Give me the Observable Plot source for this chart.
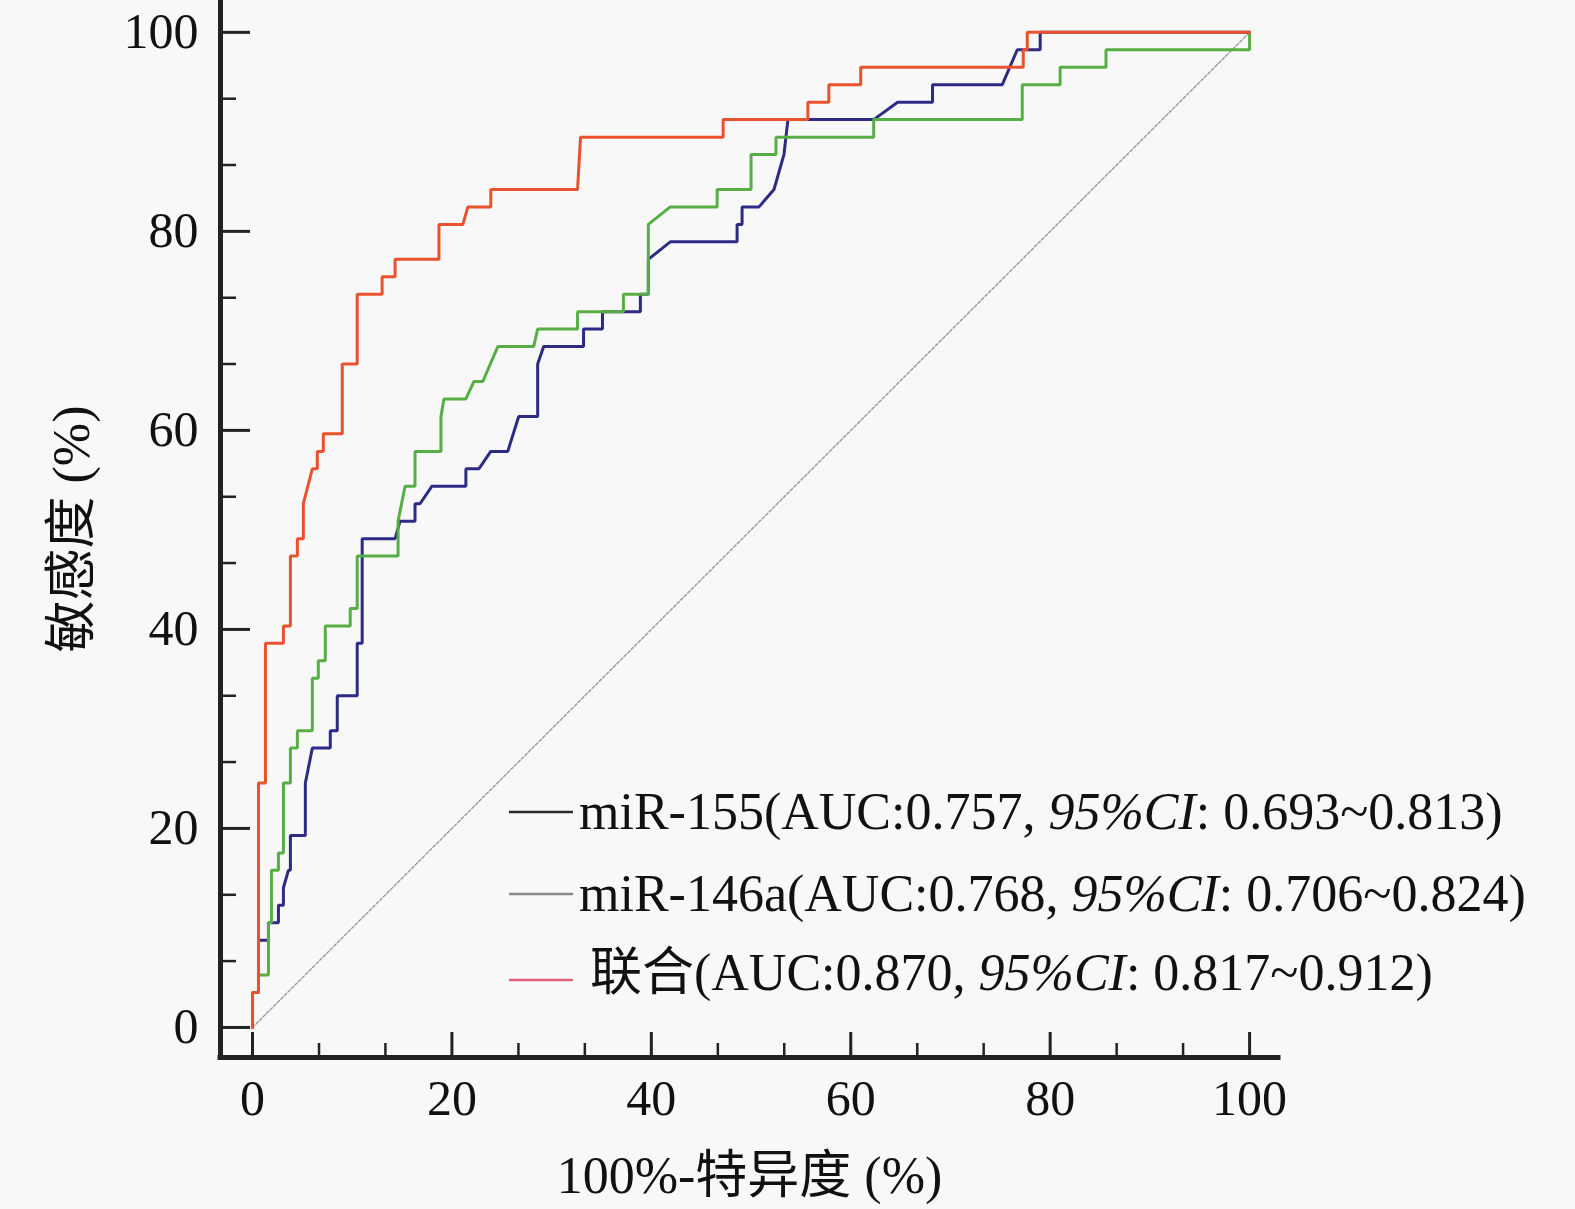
<!DOCTYPE html>
<html>
<head>
<meta charset="utf-8">
<script src="https://cdn.jsdelivr.net/npm/d3@7"></script>
<script src="https://cdn.jsdelivr.net/npm/@observablehq/plot@0.6"></script>
<style>
  html, body { margin: 0; padding: 0; background: #f8f8f8; }
  #chart { width: 1575px; height: 1209px; }
</style>
</head>
<body>
<div id="chart"></div>
<script>
// ---------------- data ----------------
const seriesNames = ["miR-155", "miR-146a", "联合"];
const seriesColors = ["#2e2b86", "#58ae46", "#e9522c"];
const legendLineColors = ["#2a2a2a", "#8a8a8a", "#e0607c"];
const legendPre = ["miR-155(AUC:0.757, ", "miR-146a(AUC:0.768, ", "联合(AUC:0.870, "];
const legendItalic = ["95%CI", "95%CI", "95%CI"];
const legendPost = [": 0.693~0.813)", ": 0.706~0.824)", ": 0.817~0.912)"];

const xTitle = "100%-特异度 (%)";
const yTitle = "敏感度 (%)";
const majorTicks = [0, 20, 40, 60, 80, 100];
const minorTicks = [6.67, 13.33, 26.67, 33.33, 46.67, 53.33, 66.67, 73.33, 86.67, 93.33];

const chanceFpr = [0, 100];
const chanceSens = [0, 100];

const mir155Fpr = [0,0,0.6,0.6,1.6,1.6,2.6,2.6,3.1,3.1,3.6,3.8,3.8,5.3,5.3,6.0,7.8,7.8,8.5,8.5,10.5,10.5,11.0,11.0,14.3,14.8,16.3,16.3,16.8,18.0,21.4,21.4,22.7,23.9,25.6,26.7,28.6,28.6,29.2,33.2,33.2,35.1,35.1,38.9,38.9,39.7,39.7,41.9,48.6,48.6,49.1,49.1,50.8,52.3,53.3,53.7,62.3,64.7,68.2,68.2,75.2,76.7,79.0,79.0,100];
const mir155Sens = [0,3.51,3.51,8.77,8.77,10.53,10.53,12.28,12.28,14.04,15.79,15.79,19.3,19.3,24.56,28.07,28.07,29.82,29.82,33.33,33.33,38.6,38.6,49.12,49.12,50.88,50.88,52.63,52.63,54.39,54.39,56.14,56.14,57.89,57.89,61.4,61.4,66.67,68.42,68.42,70.18,70.18,71.93,71.93,73.68,73.68,77.19,78.95,78.95,80.7,80.7,82.46,82.46,84.21,87.72,91.23,91.23,92.98,92.98,94.74,94.74,98.25,98.25,100,100];

const mir146aFpr = [0,0,0.6,0.6,1.6,1.6,1.9,1.9,2.6,2.6,3.1,3.1,3.8,3.8,4.5,4.5,6.0,6.0,6.6,6.6,7.3,7.3,9.8,9.8,10.5,10.5,14.6,14.6,15.3,16.3,16.3,18.9,18.9,19.2,21.4,22.2,23.1,24.6,28.2,28.6,32.6,32.6,37.2,37.2,39.7,39.7,41.9,46.6,46.6,50.0,50.0,52.5,52.5,62.3,62.3,77.2,77.2,81.0,81.0,85.6,85.6,100,100];
const mir146aSens = [0,3.51,3.51,5.26,5.26,10.53,10.53,15.79,15.79,17.54,17.54,24.56,24.56,28.07,28.07,29.82,29.82,35.09,35.09,36.84,36.84,40.35,40.35,42.11,42.11,47.37,47.37,50.88,54.39,54.39,57.89,57.89,61.4,63.16,63.16,64.91,64.91,68.42,68.42,70.18,70.18,71.93,71.93,73.68,73.68,80.7,82.46,82.46,84.21,84.21,87.72,87.72,89.47,89.47,91.23,91.23,94.74,94.74,96.49,96.49,98.25,98.25,100];

const combinedFpr = [0,0,0.6,0.6,1.3,1.3,3.1,3.1,3.8,3.8,4.5,4.5,5.1,5.1,6.0,6.5,6.5,7.1,7.1,9.0,9.0,10.5,10.5,13.0,13.0,14.3,14.3,18.7,18.7,21.1,21.6,23.9,23.9,32.6,32.9,47.2,47.2,55.7,55.7,57.8,57.8,61.0,61.0,77.3,77.3,77.7,77.7,100];
const combinedSens = [0,3.51,3.51,24.56,24.56,38.6,38.6,40.35,40.35,47.37,47.37,49.12,49.12,52.63,56.14,56.14,57.89,57.89,59.65,59.65,66.67,66.67,73.68,73.68,75.44,75.44,77.19,77.19,80.7,80.7,82.46,82.46,84.21,84.21,89.47,89.47,91.23,91.23,92.98,92.98,94.74,94.74,96.49,96.49,98.25,98.25,100,100];

// ---------------- tables ----------------
const toRows = (name, fpr, sens) => fpr.map((x, i) => ({series: name, fpr: x, sens: sens[i]}));
const rows155 = toRows(seriesNames[0], mir155Fpr, mir155Sens);
const rows146 = toRows(seriesNames[1], mir146aFpr, mir146aSens);
const rowsComb = toRows(seriesNames[2], combinedFpr, combinedSens);
const chanceRows = chanceFpr.map((x, i) => ({fpr: x, sens: chanceSens[i]}));

// ---------------- layout ----------------
const W = 1575, H = 1209;
const mL = 220, mR = 297, mT = 0, mB = 152;
const frameW = W - mL - mR, frameH = H - mT - mB;
const xDomain = [-3.21, 102.9];
const yDomain = [-3.02, 103.2];
const serif = "'Liberation Serif', 'Times New Roman', 'Noto Sans CJK SC', serif";
const ink = "#111";

const chart = Plot.plot({
  width: W,
  height: H,
  marginLeft: mL, marginRight: mR, marginTop: mT, marginBottom: mB,
  style: {background: "#f8f8f8", fontFamily: serif, color: ink},
  x: {domain: xDomain},
  y: {domain: yDomain},
  color: {domain: seriesNames, range: seriesColors},
  marks: [
    // chance diagonal
    Plot.line(chanceRows, {x: "fpr", y: "sens", stroke: "#9a9a9a", strokeWidth: 1.4, strokeDasharray: "3,2"}),
    // ROC curves
    Plot.line(rows155, {x: "fpr", y: "sens", stroke: "series", strokeWidth: 3, strokeLinejoin: "miter"}),
    Plot.line(rows146, {x: "fpr", y: "sens", stroke: "series", strokeWidth: 3, strokeLinejoin: "miter"}),
    Plot.line(rowsComb, {x: "fpr", y: "sens", stroke: "series", strokeWidth: 3, strokeLinejoin: "miter"}),
    // axis lines
    Plot.ruleX([xDomain[0]], {stroke: "#222", strokeWidth: 5, strokeLinecap: "square"}),
    Plot.ruleY([yDomain[0]], {stroke: "#222", strokeWidth: 5, strokeLinecap: "square"}),
    // inward ticks
    Plot.ruleX(majorTicks, {stroke: "#222", strokeWidth: 3, insetTop: frameH - 25}),
    Plot.ruleX(minorTicks, {stroke: "#222", strokeWidth: 2.5, insetTop: frameH - 14}),
    Plot.ruleY(majorTicks, {stroke: "#222", strokeWidth: 3, insetRight: frameW - 30}),
    Plot.ruleY(minorTicks, {stroke: "#222", strokeWidth: 2.5, insetRight: frameW - 16}),
    // tick labels
    Plot.axisX(majorTicks, {anchor: "bottom", tickSize: 0, tickPadding: 22, fontSize: 50, label: null, color: ink, fontFamily: serif}),
    Plot.axisY(majorTicks, {anchor: "left", tickSize: 0, tickPadding: 22, fontSize: 50, label: null, color: ink, fontFamily: serif}),
    // axis titles
    Plot.text([xTitle], {text: d => d, frameAnchor: "bottom", dy: 119, fontSize: 52, fill: ink, fontFamily: serif, lineAnchor: "middle", textAnchor: "middle"}),
    Plot.text([yTitle], {text: d => d, frameAnchor: "left", dx: -148, rotate: -90, fontSize: 52, fill: ink, fontFamily: serif, lineAnchor: "middle", textAnchor: "middle"})
  ]
});

// ---------------- legend ----------------
const svg = d3.select(chart);
const lg = svg.append("g").attr("class", "legend")
  .attr("font-family", serif).attr("font-size", 52).attr("fill", ink)
  .attr("text-anchor", "start");
const lineY = [812, 894, 980];
const baseY = [829, 911, 990];
const textX = [579, 579, 590];
seriesNames.forEach((name, i) => {
  lg.append("line")
    .attr("x1", 509).attr("x2", 573)
    .attr("y1", lineY[i]).attr("y2", lineY[i])
    .attr("stroke", legendLineColors[i]).attr("stroke-width", 2.5);
  const t = lg.append("text").attr("x", textX[i]).attr("y", baseY[i]).attr("text-anchor", "start");
  t.append("tspan").text(legendPre[i]);
  t.append("tspan").attr("font-style", "italic").text(legendItalic[i]);
  t.append("tspan").text(legendPost[i]);
});

document.getElementById("chart").appendChild(chart);
</script>
</body>
</html>
